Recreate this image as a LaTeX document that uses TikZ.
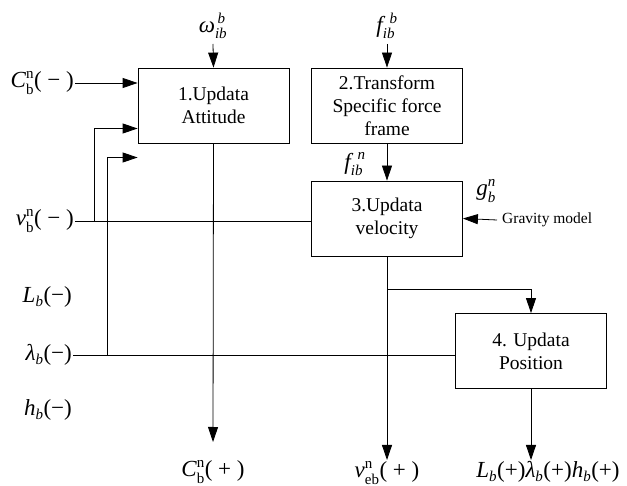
\documentclass[tikz,border=0pt]{standalone}
\usepackage{fontspec}
\setmainfont{Liberation Serif}
\usetikzlibrary{arrows.meta}
\newcommand{\sx}[1]{\mbox{\fontsize{15}{15}\selectfont #1}}
\newcommand{\ix}[1]{\mbox{\itshape #1}}
\newcommand{\six}[1]{\mbox{\fontsize{15}{15}\selectfont\itshape #1}}
\tikzset{
  blk/.style={draw, line width=0.8pt, minimum width=151pt, minimum height=75pt, inner sep=0pt, align=center, font=\fontsize{19.5}{23}\selectfont},
  lab/.style={inner sep=1pt, font=\fontsize{23}{25}\selectfont},
  conn/.style={line width=0.8pt},
  arr/.style={conn, ->}
}
\begin{document}
\begin{tikzpicture}[>={Triangle[length=15pt,width=10pt]}]
\begin{scope}[x=1pt,y=-1pt]
\useasboundingbox (0,0) rectangle (627,486);
% blocks
\node[blk] (b1) at (213.5,105.5) {1.Updata\\Attitude};
\node[blk] (b2) at (387,105.5) {2.Transform\\Specific force\\frame};
\node[blk] (b3) at (387,218.5) {3.Updata\\velocity};
\node[blk] (b4) at (531,351) {4. Updata\\Position};
% left labels
\node[lab, anchor=east] (cm) at (75,83) {$\ix{C}_{\sx{b}}^{\sx{n}}\mbox{( − )}$};
\node[lab, anchor=east] (vm) at (75,221) {$\ix{v}_{\sx{b}}^{\sx{n}}\mbox{( − )}$};
\node[lab, anchor=east] (lm) at (73,297) {$\ix{L}_{\six{b}}\mbox{(−)}$};
\node[lab, anchor=east] (lam) at (73,355) {$\ix{λ}_{\six{b}}\mbox{(−)}$};
\node[lab, anchor=east] (hm) at (73,410) {$\ix{h}_{\six{b}}\mbox{(−)}$};
% top labels
\node[lab] (om) at (213,26) {$\ix{ω}_{\six{ib}}^{\six{\,b}}$};
\node[lab] (fb) at (387,26) {$\ix{f}_{\six{ib}}^{\six{\;\,b}}$};
\node[lab] (fn) at (355,164) {$\ix{f}_{\six{ib}}^{\six{\;\,n}}$};
\node[lab] (gn) at (486,191) {$\ix{g}_{\six{b}}^{\six{n}}$};
\node[inner ysep=0pt, inner xsep=5pt, anchor=west, font=\fontsize{15.5}{17}\selectfont] (grav) at (497,220) {Gravity model};
% bottom labels
\node[lab] (cp) at (213,472) {$\ix{C}_{\sx{b}}^{\sx{n}}\mbox{( + )}$};
\node[lab] (vp) at (387,473) {$\ix{v}_{\sx{eb}}^{\sx{n}}\mbox{( + )}$};
\node[lab] (lp) at (548,472) {$\ix{L}_{\six{b}}\mbox{(+)}\ix{λ}_{\six{b}}\mbox{(+)}\ix{h}_{\six{b}}\mbox{(+)}$};
% coordinates
\coordinate (omt) at (213,44);
\coordinate (fbt) at (387,44);
\coordinate (j1) at (94,221);
\coordinate (j2) at (107,355);
\coordinate (j3) at (387,289);
\coordinate (cpt) at (213,442);
\coordinate (vpt) at (387,460);
\coordinate (lpt) at (531,460);
\end{scope}
% connectors
\draw[arr] (omt) -- (b1.north);
\draw[arr] (fbt) -- (b2.north);
\draw[arr] (b2.south) -- (b3.north);
\draw[arr] (cm.east) -- (cm.east -| b1.west);
\draw[conn] (vm.east) -- (vm.east -| b3.west);
\draw[arr] (j1) |- ([yshift=-23pt]b1.west);
\draw[conn] (lam.east) -- (lam.east -| b4.west);
\draw[arr] (j2) |- ([yshift=-52pt]b1.west);
\draw[arr] (grav.west) -- (b3.east);
\draw[arr] (b1.south) -- (cpt);
\draw[arr] (b3.south) -- (vpt);
\draw[arr] (j3) -| (b4.north);
\draw[arr] (b4.south) -- (lpt);
\end{tikzpicture}
\end{document}
